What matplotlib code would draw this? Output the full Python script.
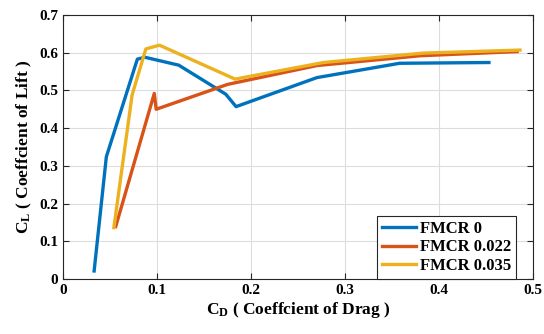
import numpy as np
import matplotlib.pyplot as plt

plt.rcParams['font.family'] = 'Liberation Serif'
plt.rcParams['font.weight'] = 'bold'
plt.rcParams['axes.labelweight'] = 'bold'
plt.rcParams['mathtext.fontset'] = 'custom'
plt.rcParams['mathtext.rm'] = 'Liberation Serif:bold'
plt.rcParams['mathtext.bf'] = 'Liberation Serif:bold'

# FMCR 0
cd0 = [0.033, 0.046, 0.079, 0.087, 0.123, 0.173, 0.184, 0.270, 0.358, 0.453]
cl0 = [0.021, 0.324, 0.583, 0.588, 0.567, 0.490, 0.457, 0.534, 0.572, 0.574]
# FMCR 0.022
cd1 = [0.056, 0.097, 0.099, 0.175, 0.270, 0.380, 0.483]
cl1 = [0.139, 0.492, 0.450, 0.516, 0.566, 0.592, 0.603]
# FMCR 0.035
cd2 = [0.054, 0.0734, 0.088, 0.1025, 0.183, 0.277, 0.383, 0.486]
cl2 = [0.136, 0.488, 0.610, 0.620, 0.530, 0.574, 0.599, 0.607]
labels = ['FMCR 0', 'FMCR 0.022', 'FMCR 0.035']
colors = ['#0072BD', '#D95319', '#EDB120']

fig = plt.figure(figsize=(5.44, 3.34), dpi=100)
ax = fig.add_axes([0.116, 0.165, 0.864, 0.79])

for xs, ys, lab, c in zip([cd0, cd1, cd2], [cl0, cl1, cl2], labels, colors):
    ax.plot(xs, ys, color=c, lw=2.4, label=lab)

ax.set_xlim(0, 0.5)
ax.set_ylim(0, 0.7)
ax.set_xticks(np.arange(0, 0.51, 0.1))
ax.set_yticks(np.arange(0, 0.71, 0.1))
ax.set_xticklabels(['0', '0.1', '0.2', '0.3', '0.4', '0.5'])
ax.set_yticklabels(['0', '0.1', '0.2', '0.3', '0.4', '0.5', '0.6', '0.7'])
ax.tick_params(direction='in', top=True, right=True, labelsize=11, length=4, color='#262626')
ax.grid(True, color='#dddddd', lw=0.8)
ax.set_axisbelow(True)
for s in ax.spines.values():
    s.set_color('#262626')
    s.set_linewidth(0.8)

ax.set_xlabel(r'$\mathregular{C_D}$ ( Coeffcient of Drag )', fontsize=12.5, fontweight='bold', labelpad=2)
ax.set_ylabel(r'$\mathregular{C_L}$ ( Coeffcient of Lift )', fontsize=12.5, fontweight='bold', labelpad=4)

leg = ax.legend(loc='lower right', bbox_to_anchor=(0.964, 0.0), prop={'size': 12, 'weight': 'bold'},
                fancybox=False, framealpha=1, edgecolor='#262626', borderaxespad=0,
                handlelength=2.0, borderpad=0.3, labelspacing=0.15, handletextpad=0.25)
leg.get_frame().set_linewidth(0.8)

fig.savefig('out.png', dpi=100)
